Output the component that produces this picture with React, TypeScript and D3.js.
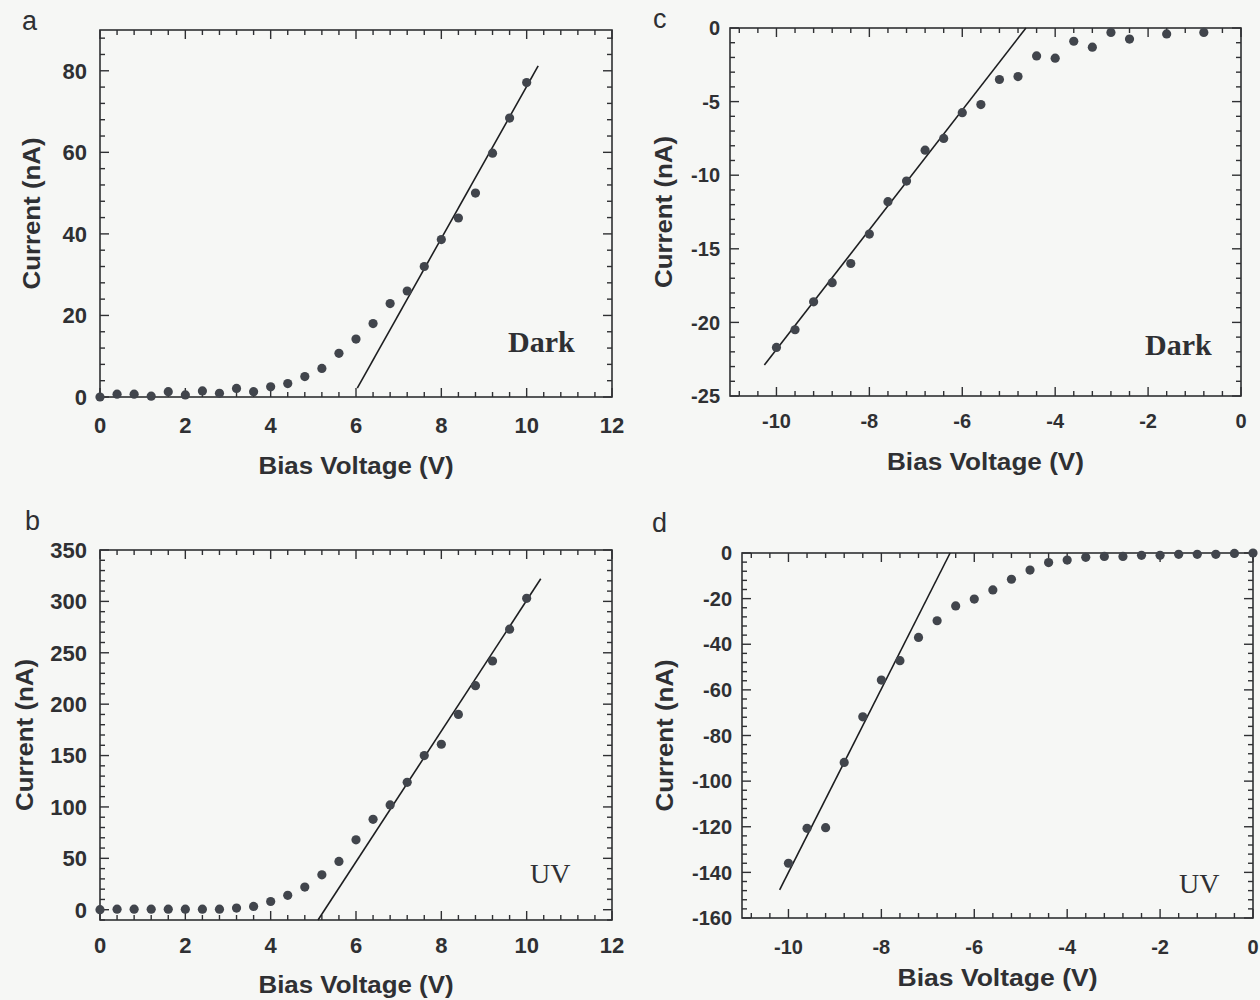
import React from 'react';
import * as d3 from 'd3';

// ---------- data ----------
const voltsForward = [0, 0.4, 0.8, 1.2, 1.6, 2.0, 2.4, 2.8, 3.2, 3.6, 4.0, 4.4, 4.8, 5.2, 5.6, 6.0, 6.4, 6.8, 7.2, 7.6, 8.0, 8.4, 8.8, 9.2, 9.6, 10.0];
const darkForwardCurrent = [0, 0.7, 0.7, 0.2, 1.3, 0.5, 1.5, 0.9, 2.1, 1.3, 2.5, 3.3, 5.0, 7.0, 10.7, 14.2, 18.0, 22.9, 26.0, 32.0, 38.6, 43.9, 50.0, 59.8, 68.4, 77.1];
const uvForwardCurrent = [0, 0.5, 0.5, 0.5, 0.5, 0.5, 0.5, 0.5, 1.6, 3.2, 8, 14, 22, 34, 47, 68, 88, 102, 124, 150, 161, 190, 218, 242, 273, 303];

const voltsDarkReverse = [-10, -9.6, -9.2, -8.8, -8.4, -8.0, -7.6, -7.2, -6.8, -6.4, -6.0, -5.6, -5.2, -4.8, -4.4, -4.0, -3.6, -3.2, -2.8, -2.4, -1.6, -0.8];
const darkReverseCurrent = [-21.7, -20.5, -18.6, -17.3, -16.0, -14.0, -11.8, -10.4, -8.3, -7.5, -5.75, -5.2, -3.5, -3.3, -1.9, -2.05, -0.9, -1.3, -0.3, -0.75, -0.4, -0.3];

const voltsUvReverse = [-10, -9.6, -9.2, -8.8, -8.4, -8.0, -7.6, -7.2, -6.8, -6.4, -6.0, -5.6, -5.2, -4.8, -4.4, -4.0, -3.6, -3.2, -2.8, -2.4, -2.0, -1.6, -1.2, -0.8, -0.4, 0];
const uvReverseCurrent = [-136, -120.7, -120.4, -91.8, -71.8, -55.7, -47.2, -37, -29.7, -23.2, -20.2, -16.2, -11.5, -7.5, -4.2, -3.1, -1.9, -1.5, -1.5, -1.0, -1.0, -0.6, -0.6, -0.6, -0.2, 0];

// linear fits: [voltage, current] end points
const fitDarkForward = [[6.03, 2.2], [10.27, 81.2]];
const fitUvForward = [[5.11, -10], [10.33, 322]];
const fitDarkReverse = [[-10.26, -22.9], [-4.63, 0]];
const fitUvReverse = [[-10.19, -147.7], [-6.52, 0]];

// tick labels
const xTicksForward = [0, 2, 4, 6, 8, 10, 12];
const xTicksReverse = [-10, -8, -6, -4, -2, 0];
const yTicksA = [0, 20, 40, 60, 80];
const yTicksB = [0, 50, 100, 150, 200, 250, 300, 350];
const yTicksC = [0, -5, -10, -15, -20, -25];
const yTicksD = [0, -20, -40, -60, -80, -100, -120, -140, -160];

const xTitle = 'Bias Voltage (V)';
const yTitle = 'Current (nA)';

// ---------- layout ----------
const panels = [
  {
    letter: 'a', cond: 'Dark', condBold: true,
    volts: voltsForward, current: darkForwardCurrent, fit: fitDarkForward,
    xDomain: [0, 12], yDomain: [0, 90], xTicks: xTicksForward, yTicks: yTicksA,
    xMajor: 2, yMajor: 20, xMinor: 0.4, yMinor: 4,
    left: 100, right: 612, top: 30, bottom: 397,
    tickFont: 22, yLabGap: 13, xLabBase: 433,
    letterX: 22, letterY: 30, condX: 508, condY: 352, condSize: 30,
    yTitleX: 40, xTitleY: 474, xTitleW: 195, yTitleW: 152,
  },
  {
    letter: 'b', cond: 'UV', condBold: false,
    volts: voltsForward, current: uvForwardCurrent, fit: fitUvForward,
    xDomain: [0, 12], yDomain: [-10, 350], xTicks: xTicksForward, yTicks: yTicksB,
    xMajor: 2, yMajor: 50, xMinor: 0.4, yMinor: 10,
    left: 100, right: 612, top: 550, bottom: 920,
    tickFont: 22, yLabGap: 13, xLabBase: 953,
    letterX: 25, letterY: 530, condX: 530, condY: 883, condSize: 28,
    yTitleX: 33, xTitleY: 993, xTitleW: 195, yTitleW: 152,
  },
  {
    letter: 'c', cond: 'Dark', condBold: true,
    volts: voltsDarkReverse, current: darkReverseCurrent, fit: fitDarkReverse,
    xDomain: [-11, 0], yDomain: [-25, 0], xTicks: xTicksReverse, yTicks: yTicksC,
    xMajor: 2, yMajor: 5, xMinor: 0.4, yMinor: 1,
    left: 730, right: 1241, top: 28, bottom: 396,
    tickFont: 20, yLabGap: 10, xLabBase: 428,
    letterX: 653, letterY: 28, condX: 1145, condY: 355, condSize: 30,
    yTitleX: 672, xTitleY: 470, xTitleW: 197, yTitleW: 152,
  },
  {
    letter: 'd', cond: 'UV', condBold: false,
    volts: voltsUvReverse, current: uvReverseCurrent, fit: fitUvReverse,
    xDomain: [-11, 0], yDomain: [-160, 0], xTicks: xTicksReverse, yTicks: yTicksD,
    xMajor: 2, yMajor: 20, xMinor: 0.4, yMinor: 4,
    left: 742, right: 1253, top: 553, bottom: 918,
    tickFont: 20, yLabGap: 10, xLabBase: 954,
    letterX: 652, letterY: 532, condX: 1179, condY: 893, condSize: 28,
    yTitleX: 673, xTitleY: 986, xTitleW: 200, yTitleW: 152,
  },
];

const SANS = '"Liberation Sans", Arial, Helvetica, sans-serif';
const SERIF = '"Liberation Serif", "Times New Roman", serif';
const INK = '#2f3033';
const DOT = '#41454c';

function minorTicks(domain: number[], step: number, major: number) {
  const out: number[] = [];
  const lo = Math.min(domain[0], domain[1]);
  const hi = Math.max(domain[0], domain[1]);
  const k0 = Math.ceil(lo / step - 1e-9);
  const k1 = Math.floor(hi / step + 1e-9);
  for (let k = k0; k <= k1; k++) {
    const v = k * step;
    const r = v / major;
    if (Math.abs(r - Math.round(r)) < 1e-6) continue;
    out.push(v);
  }
  return out;
}

function majorTicks(domain: number[], major: number) {
  return minorTicks(domain, major, 1e9).concat(
    (() => {
      const out: number[] = [];
      const lo = Math.min(domain[0], domain[1]);
      const hi = Math.max(domain[0], domain[1]);
      for (let k = Math.ceil(lo / major - 1e-9); k <= Math.floor(hi / major + 1e-9); k++) out.push(k * major);
      return out;
    })()
  ).filter((v, i, a) => a.indexOf(v) === i);
}

function Panel({ p }: { p: any }) {
  const x = d3.scaleLinear().domain(p.xDomain).range([p.left, p.right]);
  const y = d3.scaleLinear().domain(p.yDomain).range([p.bottom, p.top]);
  const MAJ = 9;
  const MIN = 5;
  const xMaj = majorTicks(p.xDomain, p.xMajor);
  const yMaj = majorTicks(p.yDomain, p.yMajor);
  const xMin = minorTicks(p.xDomain, p.xMinor, p.xMajor);
  const yMin = minorTicks(p.yDomain, p.yMinor, p.yMajor);
  const line = d3.line();
  const fitPath = line(p.fit.map((d: number[]) => [x(d[0]), y(d[1])] as [number, number])) || '';
  const cy = (p.top + p.bottom) / 2;
  const cx = (p.left + p.right) / 2;

  const tickLines: React.ReactNode[] = [];
  xMaj.forEach((v, i) => {
    tickLines.push(<line key={'xb' + i} x1={x(v)} x2={x(v)} y1={p.bottom} y2={p.bottom - MAJ} />);
    tickLines.push(<line key={'xt' + i} x1={x(v)} x2={x(v)} y1={p.top} y2={p.top + MAJ} />);
  });
  xMin.forEach((v, i) => {
    tickLines.push(<line key={'xbm' + i} x1={x(v)} x2={x(v)} y1={p.bottom} y2={p.bottom - MIN} />);
    tickLines.push(<line key={'xtm' + i} x1={x(v)} x2={x(v)} y1={p.top} y2={p.top + MIN} />);
  });
  yMaj.forEach((v, i) => {
    tickLines.push(<line key={'yl' + i} x1={p.left} x2={p.left + MAJ} y1={y(v)} y2={y(v)} />);
    tickLines.push(<line key={'yr' + i} x1={p.right} x2={p.right - MAJ} y1={y(v)} y2={y(v)} />);
  });
  yMin.forEach((v, i) => {
    tickLines.push(<line key={'ylm' + i} x1={p.left} x2={p.left + MIN} y1={y(v)} y2={y(v)} />);
    tickLines.push(<line key={'yrm' + i} x1={p.right} x2={p.right - MIN} y1={y(v)} y2={y(v)} />);
  });

  return (
    <g>
      <text x={p.letterX} y={p.letterY} fontFamily={SANS} fontSize={27} fill={INK}>{p.letter}</text>
      <g stroke={INK} strokeWidth={1.4}>{tickLines}</g>
      <rect x={p.left} y={p.top} width={p.right - p.left} height={p.bottom - p.top} fill="none" stroke={INK} strokeWidth={1.6} />
      {p.xTicks.map((v: number) => (
        <text key={'xl' + v} x={x(v)} y={p.xLabBase} textAnchor="middle" fontFamily={SANS} fontWeight="bold" fontSize={p.tickFont} fill={INK}>{v}</text>
      ))}
      {p.yTicks.map((v: number) => (
        <text key={'yl' + v} x={p.left - p.yLabGap} y={y(v)} dy="0.36em" textAnchor="end" fontFamily={SANS} fontWeight="bold" fontSize={p.tickFont} fill={INK}>{v}</text>
      ))}
      <text x={cx} y={p.xTitleY} textAnchor="middle" fontFamily={SANS} fontWeight="bold" fontSize={23} fill={INK} textLength={p.xTitleW} lengthAdjust="spacingAndGlyphs">{xTitle}</text>
      <text transform={`translate(${p.yTitleX},${cy}) rotate(-90)`} textAnchor="middle" fontFamily={SANS} fontWeight="bold" fontSize={23} fill={INK} textLength={p.yTitleW} lengthAdjust="spacingAndGlyphs">{yTitle}</text>
      <path d={fitPath} fill="none" stroke="#1d1e20" strokeWidth={1.6} />
      {p.volts.map((v: number, i: number) => (
        <circle key={'pt' + i} cx={x(v)} cy={y(p.current[i])} r={4.6} fill={DOT} />
      ))}
      <text x={p.condX} y={p.condY} fontFamily={SERIF} fontWeight={p.condBold ? 'bold' : 'normal'} fontSize={p.condSize} fill={INK}>{p.cond}</text>
    </g>
  );
}

export default function App() {
  return (
    <svg width={1260} height={1000} viewBox="0 0 1260 1000" style={{ position: 'absolute', left: 0, top: 0, display: 'block' }}>
      <rect x={0} y={0} width={1260} height={1000} fill="#f6f7f5" />
      {panels.map((p) => <Panel key={p.letter} p={p} />)}
    </svg>
  );
}
